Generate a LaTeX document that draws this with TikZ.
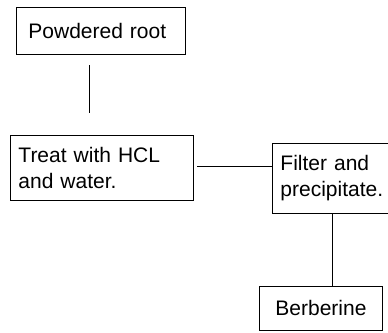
\documentclass[tikz,border=0pt]{standalone}
\usepackage{fontspec}
\setmainfont{Liberation Sans}
\begin{document}
\begin{tikzpicture}[x=1pt,y=-1pt,
  box/.style={draw=black, line width=0.9pt, anchor=north west, align=left,
    inner ysep=0pt, font=\fontsize{21}{26}\selectfont},
  conn/.style={draw=black, line width=0.9pt}]
\useasboundingbox (0,0) rectangle (388,332);
\clip (0,0) rectangle (388,332);
\node[box, minimum width=169pt, minimum height=47pt, inner xsep=12pt, text width=145pt] (b1) at (16,7) {Powdered root};
\node[box, minimum width=183pt, minimum height=65pt, inner xsep=8pt, text width=167pt] (b2) at (10,135) {Treat with HCL\\and water.};
\node[box, minimum width=124pt, minimum height=70pt, inner xsep=8pt, text width=108pt] (b3) at (272,143) {Filter and\\precipitate.};
\node[box, minimum width=123pt, minimum height=44pt, inner xsep=0pt, text width=123pt, align=center] (b4) at (259,286) {Berberine};
\coordinate (l1a) at (89,65);
\coordinate (l1b) at (89,113);
\coordinate (l2a) at (197,166);
\coordinate (l3) at (332,0);
\draw[conn] (l1a) -- (l1b);
\draw[conn] (l2a) -- (l2a -| b3.west);
\draw[conn] (l3 |- b3.south) -- (l3 |- b4.north);
\end{tikzpicture}
\end{document}
